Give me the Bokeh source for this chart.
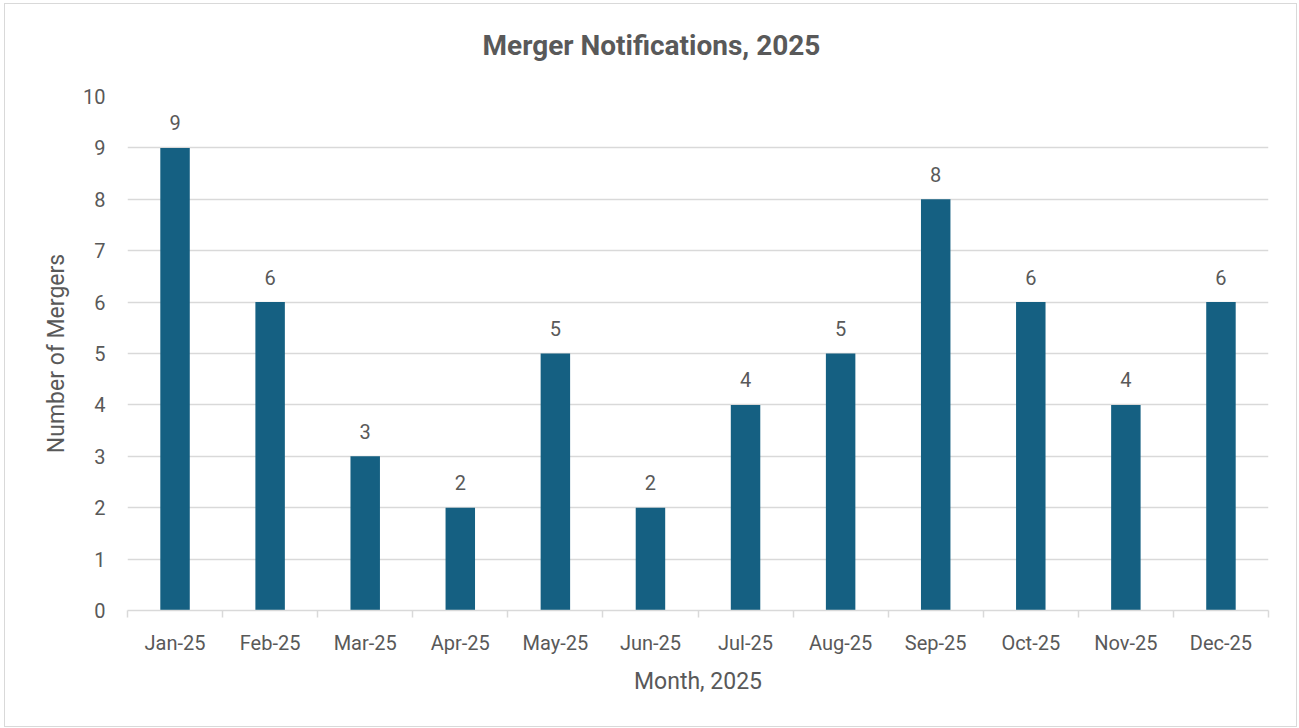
from bokeh.plotting import figure
from bokeh.models import FixedTicker, ColumnDataSource, Title
from bokeh.core.properties import value
from bokeh.embed import file_html
from bokeh.resources import INLINE

title_text = "Merger Notifications, 2025"
months = ["Jan-25", "Feb-25", "Mar-25", "Apr-25", "May-25", "Jun-25",
          "Jul-25", "Aug-25", "Sep-25", "Oct-25", "Nov-25", "Dec-25"]
mergers = [9, 6, 3, 2, 5, 2, 4, 5, 8, 6, 4, 6]
y_ticks = list(range(0, 11))

TEXT = "#595959"
GRID = "#d9d9d9"
BAR = "#156082"
FONT = "Roboto"

W, H = 1291, 722
LEFT, RIGHT, TOP, BOTTOM = 122, 28, 92, 116

xs = list(range(len(months)))
src = ColumnDataSource(dict(x=xs, month=months, n=mergers,
                            lbl=[str(v) for v in mergers]))

p = figure(width=W, height=H, output_backend="svg", toolbar_location=None,
           x_range=(-0.5, len(months) - 0.5), y_range=(0, 10))
p.margin = (4, 0, 0, 5)
p.min_border_left = LEFT
p.min_border_right = RIGHT
p.min_border_top = TOP
p.min_border_bottom = BOTTOM
p.outline_line_color = None
p.background_fill_color = "white"
p.border_fill_color = "white"
p.styles = {"outline": "1.5px solid #d9d9d9"}

p.vbar(x="x", top="n", width=0.31, bottom=0, source=src,
       fill_color=BAR, line_color=None)
p.text(x="x", y="n", text="lbl", source=src, text_align="center",
       text_baseline="middle", y_offset=-25, text_font=value(FONT),
       text_font_size="20px", text_color=TEXT)

# spacer between plot area and title, then the title itself
p.add_layout(Title(text=" ", text_font_size="1px", standoff=32), "above")
p.add_layout(Title(text=title_text, align="left", offset=355, standoff=0,
                   text_font=FONT, text_font_size="28px",
                   text_font_style="bold", text_color=TEXT), "above")

# x axis
xa = p.xaxis[0]
xa.ticker = FixedTicker(ticks=xs, minor_ticks=[i - 0.5 for i in range(len(months) + 1)])
xa.major_label_overrides = {i: m for i, m in enumerate(months)}
xa.major_tick_line_color = None
xa.major_tick_out = 0
xa.major_tick_in = 0
xa.minor_tick_line_color = GRID
xa.minor_tick_line_width = 1.5
xa.minor_tick_out = 7
xa.minor_tick_in = 0
xa.axis_line_color = GRID
xa.axis_line_width = 1.5
xa.major_label_text_font = FONT
xa.major_label_text_font_size = "20px"
xa.major_label_text_color = TEXT
xa.major_label_standoff = 13
xa.axis_label = "Month, 2025"
xa.axis_label_text_font = FONT
xa.axis_label_text_font_size = "23px"
xa.axis_label_text_font_style = "normal"
xa.axis_label_text_color = TEXT
xa.axis_label_standoff = 10

# y axis
ya = p.yaxis[0]
ya.ticker = FixedTicker(ticks=y_ticks)
ya.axis_line_color = None
ya.major_tick_line_color = None
ya.minor_tick_line_color = None
ya.major_tick_out = 0
ya.major_tick_in = 0
ya.major_label_text_font = FONT
ya.major_label_text_font_size = "20px"
ya.major_label_text_color = TEXT
ya.major_label_standoff = 22
ya.axis_label = "Number of Mergers"
ya.axis_label_text_font = FONT
ya.axis_label_text_font_size = "23px"
ya.axis_label_text_font_style = "normal"
ya.axis_label_text_color = TEXT
ya.axis_label_standoff = 10

p.xgrid.grid_line_color = None
p.ygrid.grid_line_color = GRID
p.ygrid.grid_line_width = 1.5
p.ygrid.ticker = FixedTicker(ticks=y_ticks)

open("out.html", "w").write(file_html(p, INLINE))
